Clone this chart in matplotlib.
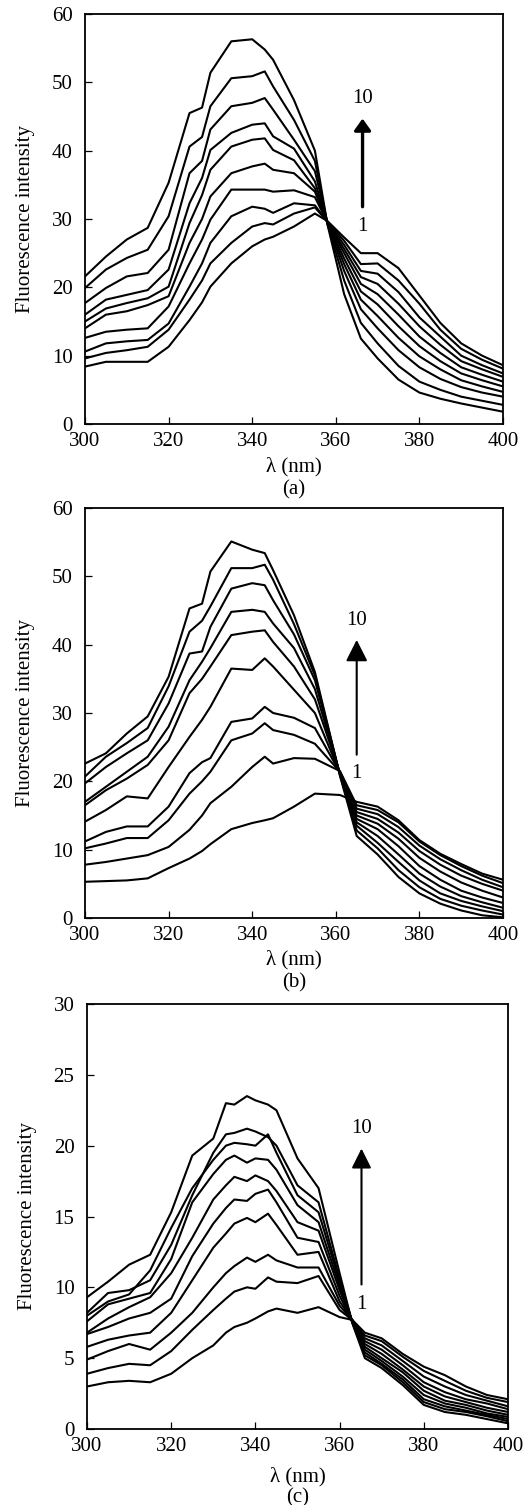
import numpy as np
import matplotlib
matplotlib.use("Agg")
import matplotlib.pyplot as plt

plt.rcParams['font.family'] = ['Liberation Serif', 'DejaVu Serif']

# wavelengths (nm)
wl_a = [300, 305, 310, 315, 320, 325, 328, 330, 335, 340, 343, 345, 350, 355,
        358, 362, 366, 370, 375, 380, 385, 390, 395, 400]
wl_b = [300, 305, 310, 315, 320, 325, 328, 330, 335, 340, 343, 345, 350, 355,
        361, 365, 370, 375, 380, 385, 390, 395, 400]
wl_c = [300, 305, 310, 315, 320, 325, 330, 333, 335, 338, 340, 343, 345, 350,
        355, 360, 363, 366, 370, 375, 380, 385, 390, 395, 400]

# one row per wavelength, columns = spectrum 10 ... spectrum 1
int_a = [
    [21.6, 19.9, 17.7, 16.0, 15.0, 14.0, 12.6, 10.6, 9.6, 8.4],
    [24.5, 22.6, 19.9, 18.2, 16.9, 16.0, 13.5, 11.8, 10.4, 9.1],
    [27.0, 24.3, 21.6, 18.9, 17.7, 16.5, 13.8, 12.1, 10.8, 9.1],
    [28.7, 25.5, 22.1, 19.6, 18.4, 17.4, 14.0, 12.3, 11.3, 9.1],
    [35.3, 30.4, 25.5, 22.6, 20.1, 18.7, 17.2, 14.7, 13.8, 11.3],
    [45.5, 40.6, 36.7, 32.3, 29.4, 26.5, 23.5, 20.1, 18.2, 15.2],
    [46.3, 42.0, 38.5, 36.0, 33.5, 30.0, 27.0, 23.5, 21.0, 17.8],
    [51.4, 46.5, 43.1, 40.1, 37.2, 33.3, 29.9, 26.5, 23.5, 20.1],
    [56.0, 50.6, 46.5, 42.6, 40.6, 36.7, 34.3, 30.4, 26.5, 23.5],
    [56.3, 50.9, 47.0, 43.8, 41.6, 37.7, 34.3, 31.8, 28.9, 26.0],
    [54.8, 51.6, 47.7, 44.0, 41.8, 38.1, 34.3, 31.5, 29.4, 27.0],
    [53.3, 49.4, 46.0, 42.1, 40.1, 37.2, 34.0, 30.9, 29.2, 27.4],
    [47.4, 44.5, 41.6, 40.3, 38.6, 36.7, 34.2, 32.3, 30.8, 28.9],
    [40.0, 38.5, 37.0, 35.5, 34.5, 34.0, 33.2, 32.0, 31.7, 30.8],
    [29.2, 29.3, 29.4, 29.4, 29.5, 29.5, 29.5, 29.6, 29.6, 29.7],
    [19.0, 21.0, 22.4, 23.4, 24.2, 25.0, 25.6, 26.2, 26.8, 27.3],
    [12.5, 14.8, 16.8, 18.2, 19.4, 20.5, 21.5, 22.4, 23.4, 25.0],
    [9.6, 11.8, 14.0, 15.8, 17.5, 19.0, 20.5, 22.0, 23.5, 25.0],
    [6.5, 8.5, 10.8, 12.6, 14.3, 16.0, 17.6, 19.3, 21.0, 22.8],
    [4.6, 6.2, 8.3, 9.9, 11.4, 12.8, 14.3, 15.6, 17.6, 18.8],
    [3.7, 5.0, 6.6, 8.0, 9.2, 10.4, 11.6, 12.8, 13.8, 14.8],
    [3.0, 4.0, 5.4, 6.4, 7.4, 8.3, 9.2, 10.0, 11.0, 11.8],
    [2.4, 3.4, 4.6, 5.5, 6.4, 7.2, 8.0, 8.6, 9.4, 10.0],
    [1.8, 2.8, 4.0, 4.7, 5.5, 6.2, 6.9, 7.4, 8.1, 8.6],
]

int_b = [
    [22.6, 20.7, 19.7, 17.0, 16.5, 14.1, 11.2, 10.2, 7.8, 5.3],
    [24.1, 23.6, 22.1, 19.2, 18.7, 15.8, 12.6, 10.9, 8.2, 5.4],
    [27.0, 25.6, 24.1, 21.4, 20.4, 17.8, 13.4, 11.7, 8.7, 5.5],
    [29.5, 27.8, 26.0, 23.6, 22.4, 17.5, 13.4, 11.7, 9.2, 5.8],
    [35.3, 33.9, 31.4, 28.0, 26.0, 22.1, 16.3, 14.3, 10.4, 7.3],
    [45.3, 41.9, 38.7, 34.8, 32.9, 26.5, 21.2, 18.2, 12.9, 8.7],
    [46.0, 43.5, 39.0, 37.5, 35.0, 29.0, 22.8, 20.0, 15.0, 9.8],
    [50.7, 45.6, 42.6, 39.5, 36.8, 30.9, 23.4, 21.4, 16.8, 10.8],
    [55.1, 51.2, 48.2, 44.8, 41.4, 36.5, 28.7, 26.0, 19.2, 13.0],
    [53.9, 51.2, 49.0, 45.1, 41.9, 36.3, 29.2, 27.0, 22.1, 13.9],
    [53.4, 51.7, 48.7, 44.8, 42.1, 38.0, 30.9, 28.5, 23.6, 14.3],
    [50.9, 49.5, 46.5, 43.1, 40.4, 36.8, 30.0, 27.5, 22.6, 14.6],
    [44.3, 43.0, 41.5, 39.5, 36.8, 33.4, 29.3, 26.8, 23.4, 16.3],
    [36.0, 35.5, 34.8, 33.5, 32.0, 30.0, 27.8, 25.5, 23.3, 18.2],
    [20.8, 20.9, 21.0, 21.1, 21.2, 21.2, 21.3, 21.4, 21.5, 18.0],
    [12.0, 12.8, 13.5, 14.0, 14.5, 15.0, 15.5, 16.0, 16.5, 17.0],
    [9.3, 10.2, 11.0, 12.0, 13.0, 13.8, 14.5, 15.2, 15.8, 16.3],
    [6.0, 7.0, 8.2, 9.3, 10.5, 11.6, 12.5, 13.3, 14.0, 14.3],
    [3.6, 4.5, 5.5, 6.5, 7.6, 8.8, 9.8, 10.6, 11.2, 11.4],
    [2.1, 2.8, 3.6, 4.6, 5.6, 6.8, 7.8, 8.6, 9.2, 9.4],
    [1.1, 1.8, 2.5, 3.2, 4.0, 5.2, 6.2, 7.0, 7.6, 7.9],
    [0.4, 1.1, 1.7, 2.3, 3.0, 4.0, 5.0, 5.6, 6.2, 6.5],
    [0.1, 0.5, 1.0, 1.5, 2.2, 3.0, 4.0, 4.5, 5.1, 5.6],
]

int_c = [
    [9.3, 8.2, 8.0, 7.6, 6.8, 6.7, 5.8, 4.9, 3.9, 3.0],
    [10.4, 9.6, 9.0, 8.8, 7.8, 7.2, 6.3, 5.5, 4.3, 3.3],
    [11.6, 9.8, 9.5, 9.2, 8.6, 7.8, 6.6, 6.0, 4.6, 3.4],
    [12.3, 10.5, 11.2, 9.6, 9.3, 8.2, 6.8, 5.6, 4.5, 3.3],
    [15.3, 13.0, 14.2, 12.0, 11.0, 9.2, 8.2, 6.8, 5.5, 3.9],
    [19.3, 16.5, 17.0, 16.0, 13.5, 12.2, 10.5, 8.2, 7.0, 5.0],
    [20.5, 19.5, 19.0, 18.0, 16.2, 14.5, 12.8, 10.0, 8.4, 5.9],
    [23.0, 20.8, 20.0, 19.0, 17.2, 15.6, 13.8, 11.0, 9.2, 6.8],
    [22.9, 20.9, 20.2, 19.3, 17.8, 16.2, 14.5, 11.5, 9.7, 7.2],
    [23.5, 21.2, 20.1, 18.8, 17.5, 16.1, 14.9, 12.1, 10.0, 7.5],
    [23.2, 21.0, 20.0, 19.1, 17.9, 16.6, 14.6, 11.8, 9.9, 7.8],
    [22.9, 20.6, 20.8, 19.0, 17.5, 16.9, 15.2, 12.3, 10.7, 8.3],
    [22.5, 20.0, 19.5, 18.3, 16.8, 16.0, 14.4, 11.9, 10.4, 8.5],
    [19.1, 17.2, 16.5, 15.8, 14.6, 13.5, 12.3, 11.4, 10.3, 8.2],
    [17.0, 16.0, 15.3, 14.6, 14.0, 13.2, 12.5, 11.4, 10.8, 8.6],
    [11.0, 10.6, 10.4, 10.1, 9.8, 9.4, 9.0, 8.7, 8.4, 7.9],
    [7.5, 7.5, 7.6, 7.6, 7.6, 7.6, 7.7, 7.7, 7.7, 7.7],
    [5.0, 5.2, 5.4, 5.6, 5.8, 6.0, 6.2, 6.4, 6.6, 6.8],
    [4.3, 4.5, 4.6, 4.8, 5.0, 5.3, 5.6, 5.9, 6.2, 6.4],
    [3.1, 3.3, 3.5, 3.7, 4.0, 4.2, 4.5, 4.8, 5.1, 5.3],
    [1.7, 1.9, 2.1, 2.4, 2.7, 3.0, 3.3, 3.7, 4.1, 4.4],
    [1.2, 1.4, 1.6, 1.8, 2.0, 2.3, 2.6, 3.0, 3.4, 3.8],
    [1.0, 1.2, 1.3, 1.5, 1.7, 1.9, 2.1, 2.4, 2.7, 3.0],
    [0.7, 0.9, 1.0, 1.1, 1.3, 1.5, 1.8, 2.0, 2.2, 2.4],
    [0.4, 0.55, 0.7, 0.85, 1.0, 1.2, 1.4, 1.6, 1.9, 2.1],
]

xticks = [300, 320, 340, 360, 380, 400]

W, H = 530, 1505
FS = 15
fig = plt.figure(figsize=(W / 100, H / 100), dpi=100)


def px_axes(l, t, r, b):
    return fig.add_axes([l / W, 1 - b / H, (r - l) / W, (b - t) / H])


def draw(ax, wl, rows, ymax, ystep, tag, arrow, arrow_w, head, lab_dy):
    arr = np.array(rows)
    for k in range(arr.shape[1]):
        ax.plot(wl, arr[:, k], color='black', lw=1.5)
    ax.set_xlim(300, 400)
    ax.set_ylim(0, ymax)
    ax.set_xticks(xticks)
    ax.set_yticks(np.arange(0, ymax + 0.1, ystep))
    ax.tick_params(direction='in', length=5, width=0.9, labelsize=FS)
    ax.tick_params(axis='y', pad=9)
    ax.tick_params(axis='x', pad=6)
    for s in ax.spines.values():
        s.set_linewidth(1.3)
    ax.set_ylabel('Fluorescence intensity', fontsize=FS, labelpad=12)
    ax.set_xlabel('λ (nm)', fontsize=FS)
    h = ax.get_position().height * H
    ax.xaxis.set_label_coords(0.5, -lab_dy[0] / h)
    ax.xaxis.label.set_verticalalignment('center')
    ax.text(0.5, -lab_dy[1] / h, tag, transform=ax.transAxes,
            ha='center', va='center', fontsize=FS)
    x0, y0, y1, ytop, ybot = arrow
    ax.annotate('', xy=(x0, y1), xytext=(x0, y0),
                arrowprops=dict(arrowstyle=head, color='black', lw=arrow_w,
                                shrinkA=0, shrinkB=0, mutation_scale=20))
    ax.text(x0, ytop, '10', ha='center', va='center', fontsize=FS)
    ax.text(x0, ybot, '1', ha='center', va='center', fontsize=FS)


ax_a = px_axes(85, 14, 503, 424)
draw(ax_a, wl_a, int_a, 60, 10, '(a)', (366.4, 31.8, 44.7, 47.6, 28.9), 2.4,
     '-|>,head_length=0.35,head_width=0.25', (43, 66))

ax_b = px_axes(85, 508, 503, 918)
draw(ax_b, wl_b, int_b, 60, 10, '(b)', (365.0, 23.9, 40.7, 43.6, 21.2), 1.5,
     '-|>,head_length=0.65,head_width=0.33', (42, 65))

ax_c = px_axes(87, 1004, 508, 1429)
draw(ax_c, wl_c, int_c, 30, 5, '(c)', (365.2, 10.2, 19.8, 21.2, 8.8), 1.5,
     '-|>,head_length=0.6,head_width=0.3', (48, 69))

fig.savefig('out.png', dpi=100)
